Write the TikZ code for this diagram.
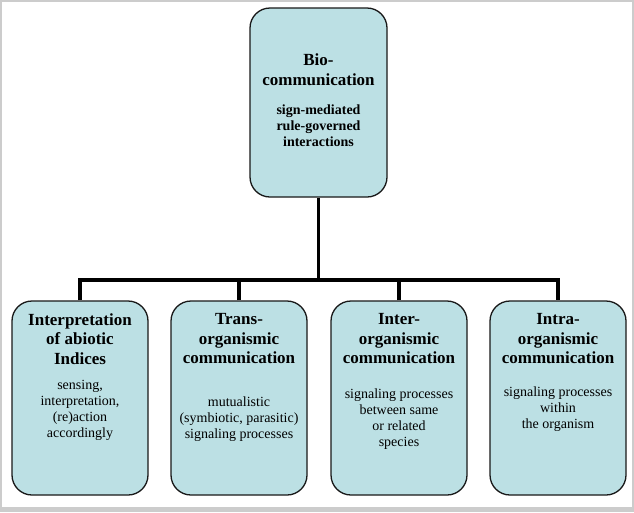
\documentclass[tikz,border=0pt]{standalone}
\usepackage{fontspec}
\setmainfont{Liberation Serif}
\usetikzlibrary{positioning}
\definecolor{boxblue}{RGB}{188,224,228}
\tikzset{
  box/.style={draw=black!90,line width=1.3pt,fill=boxblue,rounded corners=20pt,
    minimum width=136pt,minimum height=194pt},
  head/.style={align=center,inner sep=0pt,font=\bfseries\fontsize{17}{19.5}\selectfont},
  body/.style={align=center,inner sep=0pt,font=\fontsize{14}{16}\selectfont},
  link/.style={line width=3.2pt}
}
\begin{document}
\begin{tikzpicture}[x=1pt,y=-1pt]
        %% frame
        \fill[gray!40] (0,0) rectangle (634,512);
        \fill[white] (1.5,1.5) rectangle (632,507);
        \useasboundingbox (0,0) rectangle (634,512);
        %% top box
        \node[box,minimum width=137pt,minimum height=189pt] (bio) at (318.5,102.5) {};
        \node[head,below=46.5pt of bio.north] (bio-h) {Bio-\\communication};
        \node[body,font=\bfseries\fontsize{14}{16}\selectfont,below=97.5pt of bio.north] (bio-b) {sign-mediated\\rule-governed\\interactions};
        %% bottom boxes
        \node[box] (abiotic) at (80,398) {};
        \node[head,below=13pt of abiotic.north] (abiotic-h) {Interpretation\\of abiotic\\Indices};
        \node[body,below=80pt of abiotic.north] (abiotic-b) {sensing,\\interpretation,\\(re)action\\accordingly};
        \node[box] (trans) at (239,398) {};
        \node[head,below=13pt of trans.north] (trans-h) {Trans-\\organismic\\communication};
        \node[body,below=96pt of trans.north] (trans-b) {mutualistic\\(symbiotic, parasitic)\\signaling processes};
        \node[box] (inter) at (399,398) {};
        \node[head,below=13pt of inter.north] (inter-h) {Inter-\\organismic\\communication};
        \node[body,below=88pt of inter.north] (inter-b) {signaling processes\\between same\\or related\\species};
        \node[box] (intra) at (558,398) {};
        \node[head,below=13pt of intra.north] (intra-h) {Intra-\\organismic\\communication};
        \node[body,below=86pt of intra.north] (intra-b) {signaling processes\\within\\the organism};
        %% connectors
        \coordinate (bus) at (318.5,280);
        \draw[link] (bio.south) -- (bus);
        \draw[link] (abiotic.north) |- (bus -| intra.north) -- (intra.north);
        \draw[link] (trans.north) -- (trans.north |- bus);
        \draw[link] (inter.north) -- (inter.north |- bus);
    \end{tikzpicture}
\end{document}
